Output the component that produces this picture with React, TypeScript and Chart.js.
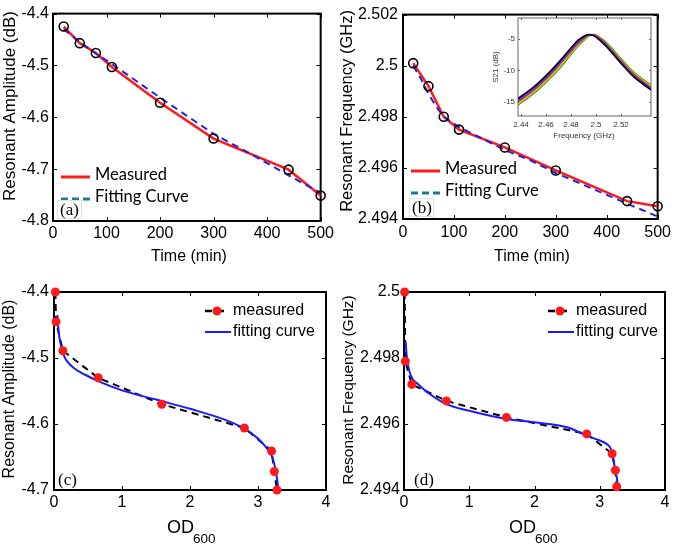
import React, { useEffect, useRef } from "react";
import { Chart, registerables } from "chart.js";

Chart.register(...registerables);

const SANS = "'Liberation Sans', Arial, Helvetica, sans-serif";
const SERIF = "'Liberation Serif', 'Times New Roman', serif";
const LEG = "Lato, 'Open Sans', sans-serif";

// ---------- Panel (a): amplitude vs time ----------
const timeMin = [20, 50, 80, 110, 200, 300, 440, 500];
const amplitudeMeasured = [-4.425, -4.457, -4.476, -4.503, -4.572, -4.641, -4.701, -4.751];
const amplitudeFitTime = [20, 50, 80, 110, 200, 300, 370, 440, 500];
const amplitudeFit = [-4.43, -4.455, -4.477, -4.497, -4.562, -4.632, -4.671, -4.712, -4.746];
const timeTicks = [0, 100, 200, 300, 400, 500];
const timeTickLabels = ["0", "100", "200", "300", "400", "500"];
const ampTicksA = [-4.8, -4.7, -4.6, -4.5, -4.4];
const ampTickLabelsA = ["-4.8", "-4.7", "-4.6", "-4.5", "-4.4"];

// ---------- Panel (b): frequency vs time ----------
const frequencyMeasured = [2.5001, 2.4992, 2.498, 2.4975, 2.4968, 2.4959, 2.4947, 2.4945];
const frequencyFitTime = [20, 35, 50, 65, 80, 110, 150, 200, 250, 300, 370, 440, 500];
const frequencyFit = [2.5, 2.4995, 2.4989, 2.4984, 2.498, 2.4976, 2.4972, 2.4967, 2.4963, 2.4958, 2.4952, 2.4946, 2.4941];
const freqTicksB = [2.494, 2.496, 2.498, 2.5, 2.502];
const freqTickLabelsB = ["2.494", "2.496", "2.498", "2.5", "2.502"];

// ---------- Inset: S21 spectra ----------
const insetFreq = [2.4376, 2.45, 2.46, 2.47, 2.48, 2.485, 2.49, 2.494, 2.498, 2.505, 2.51, 2.52, 2.53, 2.544];
const s21Black = [-14.4, -12.6, -10.8, -8.7, -6.4, -5.3, -4.6, -4.3, -4.5, -5.6, -6.6, -8.9, -11.0, -13.1];
const s21Blue = [-14.6, -12.8, -11.0, -8.9, -6.6, -5.5, -4.75, -4.35, -4.45, -5.45, -6.45, -8.75, -10.85, -12.95];
const s21Purple = [-14.8, -13.0, -11.2, -9.1, -6.8, -5.7, -4.9, -4.4, -4.4, -5.35, -6.3, -8.6, -10.7, -12.8];
const s21Red = [-15.0, -13.2, -11.4, -9.3, -7.0, -5.85, -5.0, -4.45, -4.35, -5.2, -6.2, -8.45, -10.55, -12.65];
const s21Yellow = [-15.3, -13.5, -11.7, -9.6, -7.3, -6.1, -5.15, -4.55, -4.3, -5.1, -6.05, -8.3, -10.35, -12.45];
const s21Green = [-15.5, -13.7, -11.9, -9.9, -7.5, -6.3, -5.3, -4.6, -4.3, -5.0, -5.9, -8.1, -10.2, -12.3];
const insetXTicks = [2.44, 2.46, 2.48, 2.5, 2.52];
const insetXTickLabels = ["2.44", "2.46", "2.48", "2.5", "2.52"];
const insetYTicks = [-15, -10, -5];
const insetYTickLabels = ["-15", "-10", "-5"];

// ---------- Panel (c): amplitude vs OD600 ----------
const odMeasuredC = [0.02, 0.03, 0.13, 0.65, 1.585, 2.8, 3.2, 3.24, 3.28];
const amplitudeOD = [-4.4, -4.445, -4.489, -4.53, -4.57, -4.606, -4.641, -4.672, -4.7];
const odFitC = [0.05, 0.07, 0.1, 0.15, 0.2, 0.3, 0.45, 0.65, 1.0, 1.5, 2.0, 2.5, 2.8, 3.0, 3.1, 3.2, 3.25, 3.28, 3.3];
const amplitudeODFit = [-4.435, -4.462, -4.48, -4.497, -4.506, -4.516, -4.525, -4.535, -4.549, -4.563, -4.577, -4.593, -4.607, -4.622, -4.633, -4.648, -4.665, -4.683, -4.7];
const odTicks = [0, 1, 2, 3, 4];
const odTickLabels = ["0", "1", "2", "3", "4"];
const ampTicksC = [-4.7, -4.6, -4.5, -4.4];
const ampTickLabelsC = ["-4.7", "-4.6", "-4.5", "-4.4"];

// ---------- Panel (d): frequency vs OD600 ----------
const odMeasuredD = [0.01, 0.02, 0.12, 0.65, 1.57, 2.8, 3.19, 3.24, 3.26];
const frequencyOD = [2.5, 2.4979, 2.4972, 2.4967, 2.4962, 2.4957, 2.4951, 2.4946, 2.4941];
const odFitD = [0.025, 0.04, 0.07, 0.12, 0.22, 0.4, 0.65, 1.0, 1.57, 2.0, 2.5, 2.8, 3.0, 3.1, 3.18, 3.23, 3.26, 3.28];
const frequencyODFit = [2.4985, 2.4981, 2.4977, 2.4974, 2.4972, 2.4969, 2.4966, 2.4964, 2.49615, 2.49605, 2.4959, 2.49565, 2.4955, 2.4954, 2.4952, 2.4947, 2.4944, 2.4941];
const freqTicksD = [2.494, 2.496, 2.498, 2.5];
const freqTickLabelsD = ["2.494", "2.496", "2.498", "2.5"];

const zip = (xs: number[], ys: number[]) => xs.map((x, i) => ({ x, y: ys[i] }));

type Spec = {
  x: number; y: number; w: number; h: number;
  area: { l: number; r: number; t: number; b: number };
  xMin: number; xMax: number; yMin: number; yMax: number;
  xTicks: number[]; xLabels: string[]; yTicks: number[]; yLabels: string[];
  tickSize: number; tickColor: string; padX: number; padY: number;
  tickLen: number; frameWidth: number; frameColor: string; whiteBg?: boolean;
  datasets: any[];
  extra: (ctx: CanvasRenderingContext2D, X: (v: number) => number, Y: (v: number) => number) => void;
};

function txt(ctx: CanvasRenderingContext2D, s: string, x: number, y: number, font: string, opts: any = {}) {
  ctx.save();
  ctx.font = font;
  ctx.fillStyle = opts.color || "#000";
  ctx.textAlign = opts.align || "left";
  ctx.textBaseline = opts.baseline || "middle";
  ctx.translate(x, y);
  if (opts.rot) ctx.rotate(opts.rot);
  ctx.fillText(s, 0, 0);
  ctx.restore();
}

function seg(ctx: CanvasRenderingContext2D, x1: number, y1: number, x2: number, y2: number, color: string, w: number, dash: number[] = []) {
  ctx.save();
  ctx.strokeStyle = color;
  ctx.lineWidth = w;
  ctx.setLineDash(dash);
  ctx.beginPath();
  ctx.moveTo(x1, y1);
  ctx.lineTo(x2, y2);
  ctx.stroke();
  ctx.restore();
}

function buildConfig(s: Spec): any {
  const padTop = s.area.t - s.y;
  const padRight = s.x + s.w - s.area.r;
  const yW = s.area.l - s.x;
  const xH = s.y + s.h - s.area.b;
  const X = (v: number) => v - s.x;
  const Y = (v: number) => v - s.y;
  return {
    type: "scatter",
    data: { datasets: s.datasets },
    options: {
      responsive: false,
      animation: false,
      devicePixelRatio: 1,
      events: [],
      layout: { padding: { left: 0, top: padTop, right: padRight, bottom: 0 } },
      plugins: { legend: { display: false }, tooltip: { enabled: false }, title: { display: false } },
      scales: {
        x: {
          type: "linear", position: "bottom", min: s.xMin, max: s.xMax,
          afterBuildTicks: (ax: any) => { ax.ticks = s.xTicks.map((v) => ({ value: v })); },
          afterFit: (ax: any) => { ax.height = xH; },
          grid: { display: false, drawTicks: false },
          border: { display: false },
          title: { display: false },
          ticks: {
            font: { family: SANS, size: s.tickSize }, color: s.tickColor, padding: s.padX,
            maxRotation: 0, autoSkip: false,
            callback: (_v: any, i: number) => s.xLabels[i],
          },
        },
        y: {
          type: "linear", position: "left", min: s.yMin, max: s.yMax,
          afterBuildTicks: (ax: any) => { ax.ticks = s.yTicks.map((v) => ({ value: v })); },
          afterFit: (ax: any) => { ax.width = yW; },
          grid: { display: false, drawTicks: false },
          border: { display: false },
          title: { display: false },
          ticks: {
            font: { family: SANS, size: s.tickSize }, color: s.tickColor, padding: s.padY,
            autoSkip: false,
            callback: (_v: any, i: number) => s.yLabels[i],
          },
        },
      },
    },
    plugins: [
      {
        id: "deco",
        beforeDatasetsDraw(chart: any) {
          const { ctx, chartArea: a, scales } = chart;
          ctx.save();
          if (s.whiteBg) {
            ctx.fillStyle = "#fff";
            ctx.fillRect(a.left, a.top, a.right - a.left, a.bottom - a.top);
          }
          ctx.strokeStyle = s.frameColor;
          ctx.lineWidth = 1;
          ctx.beginPath();
          for (const v of s.xTicks) {
            const p = Math.round(scales.x.getPixelForValue(v)) + 0.5;
            ctx.moveTo(p, a.bottom); ctx.lineTo(p, a.bottom - s.tickLen);
            ctx.moveTo(p, a.top); ctx.lineTo(p, a.top + s.tickLen);
          }
          for (const v of s.yTicks) {
            const p = Math.round(scales.y.getPixelForValue(v)) + 0.5;
            ctx.moveTo(a.left, p); ctx.lineTo(a.left + s.tickLen, p);
            ctx.moveTo(a.right, p); ctx.lineTo(a.right - s.tickLen, p);
          }
          ctx.stroke();
          ctx.lineWidth = s.frameWidth;
          ctx.strokeRect(a.left, a.top, a.right - a.left, a.bottom - a.top);
          ctx.restore();
        },
        afterDraw(chart: any) {
          s.extra(chart.ctx, X, Y);
        },
      },
    ],
  };
}

function Panel({ spec }: { spec: Spec }) {
  const ref = useRef<HTMLCanvasElement>(null);
  useEffect(() => {
    const chart = new Chart(ref.current as HTMLCanvasElement, buildConfig(spec));
    return () => chart.destroy();
  }, []);
  return (
    <canvas
      ref={ref}
      width={spec.w}
      height={spec.h}
      style={{ position: "absolute", left: spec.x, top: spec.y, width: spec.w, height: spec.h }}
    />
  );
}

const RED = "#ff1a1a";
const FITBLUE = "#2222e6";
const TEAL = "#1f7896";

function timeLegend(ctx: CanvasRenderingContext2D, X: any, Y: any, x0: number, yA: number, yB: number, label: string, lx: number, ly: number) {
  seg(ctx, X(x0), Y(yA + 2), X(x0 + 29), Y(yA + 2), RED, 3);
  seg(ctx, X(x0), Y(yB + 2), X(x0 + 29), Y(yB + 2), TEAL, 3, [7, 4]);
  txt(ctx, "Measured", X(x0 + 34), Y(yA), `16.5px ${LEG}`);
  txt(ctx, "Fitting Curve", X(x0 + 34), Y(yB), `16.5px ${LEG}`);
  ctx.save();
  ctx.strokeStyle = "#e2e2e2";
  ctx.lineWidth = 1;
  ctx.strokeRect(X(lx) - 2.5, Y(ly) - 14.5, 24, 18);
  ctx.restore();
  txt(ctx, label, X(lx), Y(ly), `17px ${SERIF}`, { baseline: "alphabetic" });
}

function odLegend(ctx: CanvasRenderingContext2D, X: any, Y: any, x0: number, yA: number, yB: number) {
  seg(ctx, X(x0), Y(yA), X(x0 + 24), Y(yA), "#000", 2.5, [7, 5]);
  ctx.save();
  ctx.fillStyle = RED;
  ctx.beginPath();
  ctx.arc(X(x0 + 12), Y(yA), 4.5, 0, Math.PI * 2);
  ctx.fill();
  ctx.restore();
  seg(ctx, X(x0), Y(yB), X(x0 + 26), Y(yB), "#1a1aff", 2);
  txt(ctx, "measured", X(x0 + 28), Y(yA), `16px ${SANS}`);
  txt(ctx, "fitting curve", X(x0 + 28), Y(yB), `16px ${SANS}`);
}

function odTitle(ctx: CanvasRenderingContext2D, X: any, Y: any, left: number) {
  txt(ctx, "OD", X(left), Y(528), `18px ${SANS}`);
  txt(ctx, "600", X(left + 26), Y(539), `13.5px ${SANS}`);
}

const base = {
  tickColor: "#000", tickLen: 4, frameWidth: 2, frameColor: "#000", tickSize: 16,
};

const specA: Spec = {
  ...base,
  x: 0, y: 0, w: 337, h: 270,
  area: { l: 53, r: 325, t: 7, b: 221 },
  xMin: 0, xMax: 500, yMin: -4.8, yMax: -4.4,
  xTicks: timeTicks, xLabels: timeTickLabels, yTicks: ampTicksA, yLabels: ampTickLabelsA,
  padX: 3, padY: 4,
  datasets: [
    { data: zip(timeMin, amplitudeMeasured), showLine: false, pointRadius: 4.5, pointBorderWidth: 1.6, pointBorderColor: "#000", pointBackgroundColor: "rgba(0,0,0,0)", clip: false },
    { data: zip(amplitudeFitTime, amplitudeFit), showLine: true, borderColor: FITBLUE, borderWidth: 2, borderDash: [7, 5], pointRadius: 0 },
    { data: zip(timeMin, amplitudeMeasured), showLine: true, borderColor: RED, borderWidth: 2.5, pointRadius: 0 },
  ],
  extra: (ctx, X, Y) => {
    txt(ctx, "Resonant Amplitude (dB)", X(10), Y(106), `17px ${SANS}`, { align: "center", rot: -Math.PI / 2 });
    txt(ctx, "Time (min)", X(189), Y(257), `16px ${SANS}`, { align: "center" });
    timeLegend(ctx, X, Y, 61, 175, 197, "(a)", 60, 215);
  },
};

const specB: Spec = {
  ...base,
  x: 337, y: 0, w: 338, h: 270,
  area: { l: 403, r: 661, t: 7, b: 219 },
  xMin: 0, xMax: 500, yMin: 2.494, yMax: 2.502,
  xTicks: timeTicks, xLabels: timeTickLabels, yTicks: freqTicksB, yLabels: freqTickLabelsB,
  padX: 4, padY: 5,
  datasets: [
    { data: zip(timeMin, frequencyMeasured), showLine: false, pointRadius: 4.5, pointBorderWidth: 1.6, pointBorderColor: "#000", pointBackgroundColor: "rgba(0,0,0,0)", clip: false },
    { data: zip(frequencyFitTime, frequencyFit), showLine: true, borderColor: FITBLUE, borderWidth: 2, borderDash: [7, 5], pointRadius: 0 },
    { data: zip(timeMin, frequencyMeasured), showLine: true, borderColor: RED, borderWidth: 2.5, pointRadius: 0 },
  ],
  extra: (ctx, X, Y) => {
    txt(ctx, "Resonant Frequency (GHz)", X(347), Y(111), `16.5px ${SANS}`, { align: "center", rot: -Math.PI / 2 });
    txt(ctx, "Time (min)", X(532), Y(257), `16px ${SANS}`, { align: "center" });
    timeLegend(ctx, X, Y, 411, 169, 191, "(b)", 412, 213);
  },
};

const insetColors = ["#000000", "#1a1ad0", "#8a3aa8", "#e02020", "#d4c400", "#20a020"];
const insetSeries = [s21Black, s21Blue, s21Purple, s21Red, s21Yellow, s21Green];

const specInset: Spec = {
  x: 482, y: 8, w: 176, h: 138,
  area: { l: 518, r: 651, t: 18, b: 116 },
  xMin: 2.4376, xMax: 2.544, yMin: -17.2, yMax: -1.7,
  xTicks: insetXTicks, xLabels: insetXTickLabels, yTicks: insetYTicks, yLabels: insetYTickLabels,
  tickSize: 8, tickColor: "#333", padX: 4, padY: 3,
  tickLen: 2, frameWidth: 1, frameColor: "#666", whiteBg: true,
  datasets: insetSeries.map((d, i) => ({
    data: zip(insetFreq, d), showLine: true, borderColor: insetColors[i], borderWidth: 1.3,
    pointRadius: 0, cubicInterpolationMode: "monotone",
  })),
  extra: (ctx, X, Y) => {
    txt(ctx, "S21 (dB)", X(496), Y(67), `8px ${SANS}`, { align: "center", rot: -Math.PI / 2, color: "#333" });
    txt(ctx, "Frequency (GHz)", X(584), Y(136), `8px ${SANS}`, { align: "center", color: "#333" });
  },
};

const specC: Spec = {
  ...base,
  x: 0, y: 270, w: 337, h: 277,
  area: { l: 54, r: 326, t: 292, b: 490 },
  xMin: 0, xMax: 4, yMin: -4.7, yMax: -4.4,
  xTicks: odTicks, xLabels: odTickLabels, yTicks: ampTicksC, yLabels: ampTickLabelsC,
  padX: 3, padY: 5,
  datasets: [
    { data: zip(odMeasuredC, amplitudeOD), showLine: false, pointRadius: 4.5, pointBorderWidth: 0, pointBackgroundColor: RED, clip: false },
    { data: zip(odFitC, amplitudeODFit), showLine: true, borderColor: "#1a1aff", borderWidth: 2, pointRadius: 0, cubicInterpolationMode: "monotone" },
    { data: zip(odMeasuredC, amplitudeOD), showLine: true, borderColor: "#000", borderWidth: 2, borderDash: [7, 5], pointRadius: 0 },
  ],
  extra: (ctx, X, Y) => {
    txt(ctx, "Resonant Amplitude (dB)", X(10), Y(389), `16px ${SANS}`, { align: "center", rot: -Math.PI / 2 });
    odTitle(ctx, X, Y, 167);
    odLegend(ctx, X, Y, 205, 311, 332);
    txt(ctx, "(c)", X(58), Y(485), `17px ${SERIF}`, { baseline: "alphabetic" });
  },
};

const specD: Spec = {
  ...base,
  x: 337, y: 270, w: 338, h: 277,
  area: { l: 404, r: 665, t: 292, b: 490 },
  xMin: 0, xMax: 4, yMin: 2.494, yMax: 2.5,
  xTicks: odTicks, xLabels: odTickLabels, yTicks: freqTicksD, yLabels: freqTickLabelsD,
  padX: 3, padY: 4,
  datasets: [
    { data: zip(odMeasuredD, frequencyOD), showLine: false, pointRadius: 4.5, pointBorderWidth: 0, pointBackgroundColor: RED, clip: false },
    { data: zip(odFitD, frequencyODFit), showLine: true, borderColor: "#1a1aff", borderWidth: 2, pointRadius: 0, cubicInterpolationMode: "monotone" },
    { data: zip(odMeasuredD, frequencyOD), showLine: true, borderColor: "#000", borderWidth: 2, borderDash: [7, 5], pointRadius: 0 },
  ],
  extra: (ctx, X, Y) => {
    txt(ctx, "Resonant Frequency (GHz)", X(349), Y(390), `15.5px ${SANS}`, { align: "center", rot: -Math.PI / 2 });
    odTitle(ctx, X, Y, 509);
    odLegend(ctx, X, Y, 548, 311, 332);
    txt(ctx, "(d)", X(414), Y(485), `17px ${SERIF}`, { baseline: "alphabetic" });
  },
};

export default function App() {
  return (
    <div style={{ position: "fixed", left: 0, top: 0, width: 675, height: 547, background: "#fff", overflow: "hidden" }}>
      <Panel spec={specA} />
      <Panel spec={specB} />
      <Panel spec={specC} />
      <Panel spec={specD} />
      <Panel spec={specInset} />
    </div>
  );
}
